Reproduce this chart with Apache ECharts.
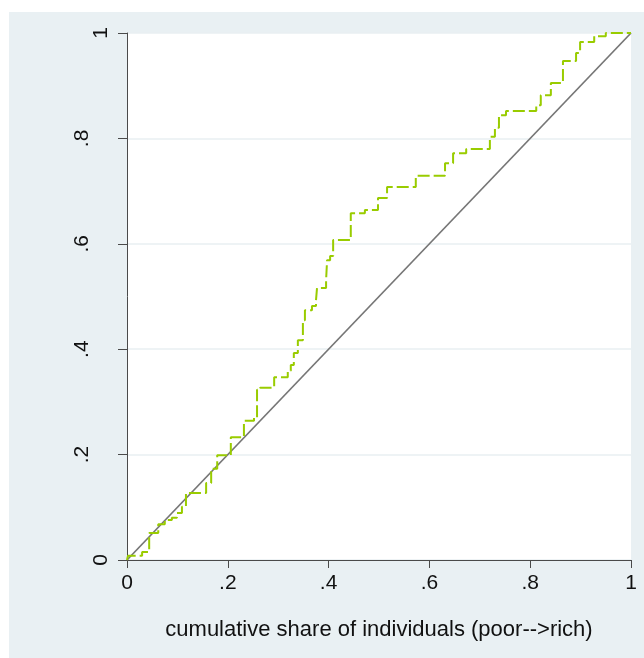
<!DOCTYPE html>
<html>
<head>
<meta charset="utf-8">
<script src="https://cdn.jsdelivr.net/npm/echarts@6/dist/echarts.min.js"></script>
<style>
html,body{margin:0;padding:0;background:#fff;}
#c{width:644px;height:658px;}
</style>
</head>
<body>
<div id="c"></div>
<script>
// Concentration curve: x = cumulative share of individuals, y = cumulative share
var stepX = [0, 0.002, 0.030, 0.044, 0.062, 0.075, 0.089, 0.099, 0.109, 0.117, 0.157, 0.167, 0.179, 0.206, 0.232, 0.252, 0.258, 0.264, 0.292, 0.319, 0.325, 0.331, 0.339, 0.349, 0.353, 0.367, 0.375, 0.377, 0.395, 0.397, 0.403, 0.409, 0.444, 0.472, 0.498, 0.516, 0.573, 0.631, 0.647, 0.673, 0.720, 0.730, 0.738, 0.752, 0.812, 0.821, 0.841, 0.865, 0.891, 0.899, 0.927, 0.950, 1.0];
var stepY = [0, 0.008, 0.015, 0.051, 0.068, 0.076, 0.080, 0.089, 0.101, 0.127, 0.146, 0.173, 0.199, 0.233, 0.264, 0.270, 0.323, 0.327, 0.347, 0.359, 0.370, 0.393, 0.417, 0.455, 0.474, 0.482, 0.493, 0.516, 0.531, 0.569, 0.577, 0.607, 0.658, 0.664, 0.687, 0.708, 0.729, 0.753, 0.772, 0.780, 0.803, 0.820, 0.844, 0.852, 0.863, 0.882, 0.905, 0.947, 0.962, 0.983, 0.994, 1.0, 1.0];
var diagX = [0, 1];
var diagY = [0, 1];
var xTickLabels = ['0', '.2', '.4', '.6', '.8', '1'];
var yTickLabels = ['0', '.2', '.4', '.6', '.8', '1'];
var xTitle = 'cumulative share of individuals (poor-->rich)';

var curveData = stepX.map(function (x, i) { return [x, stepY[i]]; });
var diagData = diagX.map(function (x, i) { return [x, diagY[i]]; });
function lab(arr, v) { var i = Math.round(v * 5); return arr[i] !== undefined ? arr[i] : ''; }

var FONT = '"Liberation Sans", Arial, sans-serif';
var chart = echarts.init(document.getElementById('c'), null, {renderer: 'canvas'});
chart.setOption({
  animation: false,
  backgroundColor: '#ffffff',
  graphic: [{
    type: 'rect', z: -100, silent: true,
    shape: {x: 9, y: 12, width: 635, height: 646},
    style: {fill: '#e9f0f3'}
  }],
  grid: {left: 127, top: 33, right: 13, bottom: 98, show: true, backgroundColor: '#ffffff', borderWidth: 0},
  xAxis: {
    type: 'value', min: 0, max: 1, interval: 0.2,
    name: xTitle, nameLocation: 'middle', nameGap: 59,
    nameTextStyle: {fontFamily: FONT, fontSize: 22, color: '#111'},
    axisLine: {show: true, onZero: false, lineStyle: {color: '#4a4a4a', width: 1}},
    axisTick: {show: true, length: 8, lineStyle: {color: '#4a4a4a'}},
    axisLabel: {margin: 13, fontFamily: FONT, fontSize: 21, color: '#111',
      formatter: function (v) { return lab(xTickLabels, v); }},
    splitLine: {show: false}
  },
  yAxis: [{
    type: 'value', min: 0, max: 1, interval: 0.2, position: 'left',
    axisLine: {show: true, onZero: false, lineStyle: {color: '#4a4a4a', width: 1}},
    axisTick: {show: true, length: 9, lineStyle: {color: '#4a4a4a'}},
    axisLabel: {rotate: 90, margin: 15, fontFamily: FONT, fontSize: 21, color: '#111',
      formatter: function (v) { return (v === 0 || v === 1) ? lab(yTickLabels, v) : ''; }},
    splitLine: {show: true, lineStyle: {color: '#e8eff2', width: 1.5}}
  }, {
    type: 'value', min: 0, max: 1, interval: 0.2, position: 'left',
    axisLine: {show: false}, axisTick: {show: false}, splitLine: {show: false},
    axisLabel: {rotate: 90, margin: 34, fontFamily: FONT, fontSize: 21, color: '#111',
      formatter: function (v) { return (v === 0 || v === 1) ? '' : lab(yTickLabels, v); }}
  }],
  series: [{
    type: 'line', data: diagData, yAxisIndex: 0, symbol: 'none',
    lineStyle: {color: '#767676', width: 1.7}, z: 2
  }, {
    type: 'line', data: curveData, yAxisIndex: 0, symbol: 'none', step: 'end',
    lineStyle: {color: '#99cc00', width: 2, type: [12, 4]}, z: 3
  }]
});
</script>
</body>
</html>
